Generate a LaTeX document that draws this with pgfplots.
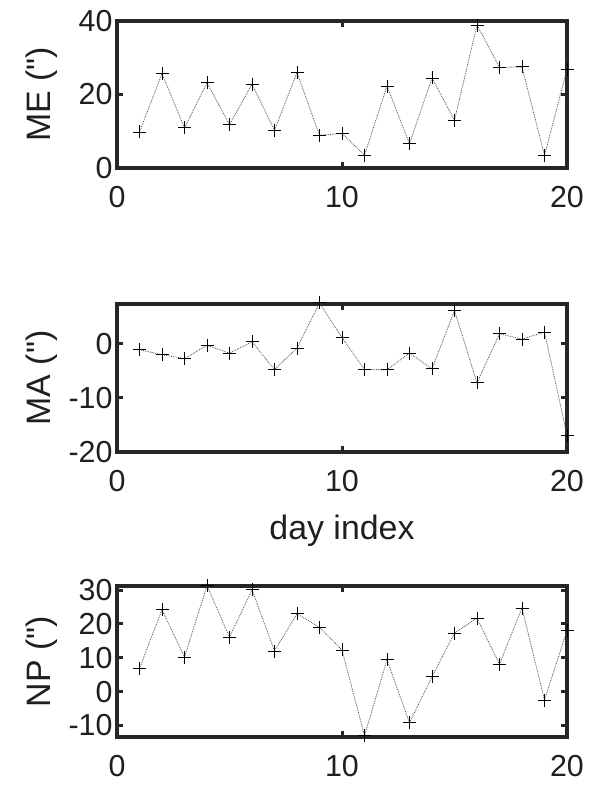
\documentclass[border=0pt]{standalone}
\usepackage{fontspec}
\setmainfont{Liberation Sans}[Ligatures=TeXOff]
\usepackage{pgfplots}
\pgfplotsset{compat=1.18}

\pgfplotsset{
 mystyle/.style={
  scale only axis, width=450bp,
  xmin=0, xmax=20, xtick={0,10,20},
  axis line style={line width=3.5bp, black!85},
  tick style={line width=3bp, black!85},
  major tick length=6bp,
  tick align=inside,
  /pgf/number format/assume math mode=true,
  tick label style={font=\fontsize{30.5}{35}\selectfont, text=black!88},
  label style={font=\fontsize{34}{40}\selectfont, text=black!88},
  xticklabel style={yshift=-15bp},
  yticklabel style={xshift=-1bp},
  ylabel style={at={(axis description cs:-0.168,0.5)}, anchor=center},
  clip=false,
  anchor=north west,
 },
 myplot/.style={densely dotted, black!70, line width=0.8bp, mark=+, mark size=6.5bp,
   mark options={solid, black, line width=0.9bp}},
}

\begin{document}
\begin{tikzpicture}
\useasboundingbox (0,0) rectangle (589bp,-787bp);

\begin{axis}[mystyle, at={(117bp,-21bp)}, height=147bp,
  ymin=0, ymax=40, ytick={0,20,40}, ylabel={ME (")}]
\addplot[myplot] coordinates {
(1,9.8) (2,25.7) (3,10.9) (4,23.2) (5,11.8) (6,22.8) (7,10.3) (8,26.0) (9,8.9) (10,9.4)
(11,3.5) (12,22.3) (13,6.6) (14,24.5) (15,13.0) (16,38.9) (17,27.4) (18,27.5) (19,3.4) (20,26.8)};
\end{axis}

\begin{axis}[mystyle, at={(117bp,-304bp)}, height=148bp,
  ymin=-20, ymax=7.4, ytick={-20,-10,0}, ylabel={MA (")},
  xlabel={day index}, xlabel style={at={(axis description cs:0.5,-0.535)}, anchor=center}]
\addplot[myplot] coordinates {
(1,-1.05) (2,-2.0) (3,-2.7) (4,-0.25) (5,-1.7) (6,0.4) (7,-4.75) (8,-0.75) (9,7.6) (10,1.2)
(11,-4.75) (12,-4.75) (13,-1.7) (14,-4.6) (15,6.2) (16,-7.2) (17,1.9) (18,0.9) (19,2.2) (20,-16.9)};
\end{axis}

\begin{axis}[mystyle, at={(117bp,-586bp)}, height=151bp,
  ymin=-13.4, ymax=31.2, ytick={-10,0,10,20,30}, ylabel={NP (")}]
\addplot[myplot] coordinates {
(1,6.9) (2,24.2) (3,10.2) (4,31.3) (5,16.1) (6,30.1) (7,12.0) (8,23.0) (9,19.0) (10,12.3)
(11,-13.0) (12,9.4) (13,-9.2) (14,4.4) (15,17.3) (16,21.7) (17,8.1) (18,24.7) (19,-2.5) (20,18.1)};
\end{axis}
\end{tikzpicture}
\end{document}
